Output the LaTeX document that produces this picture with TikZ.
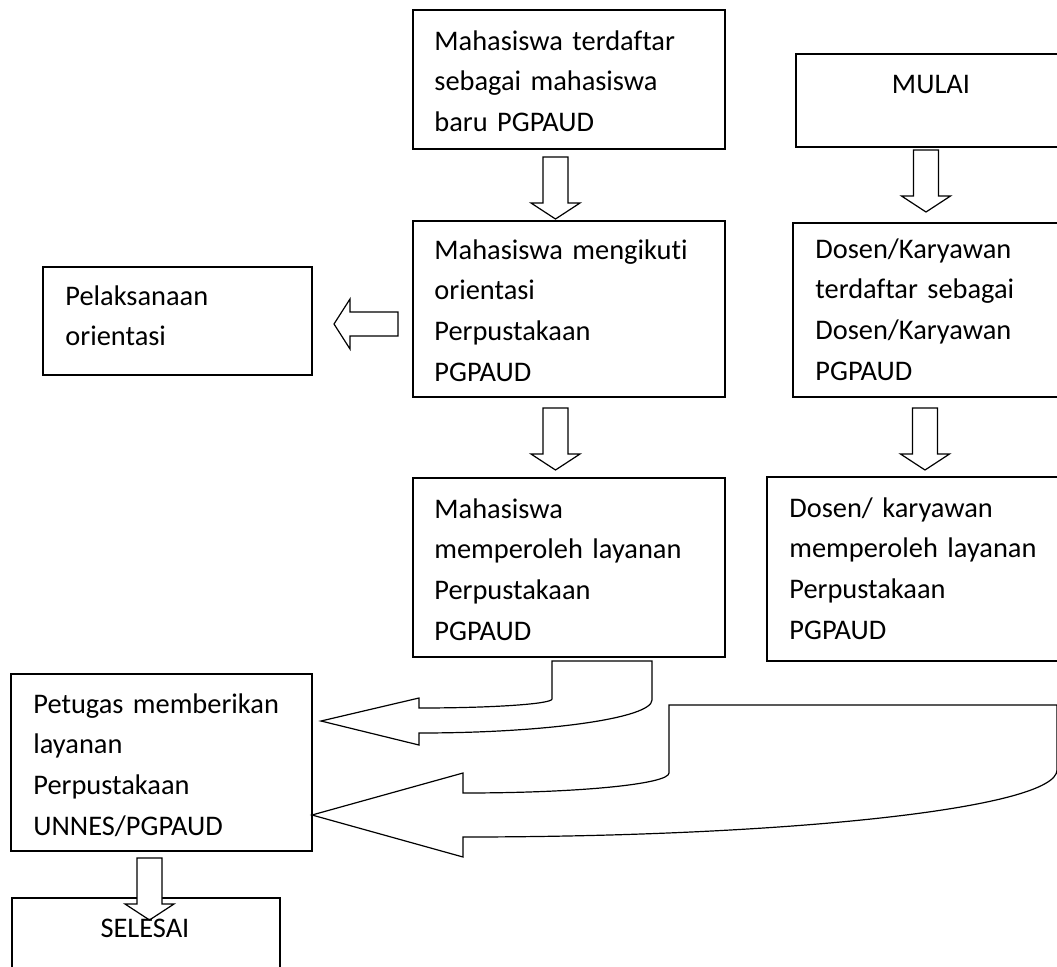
\documentclass[tikz,border=0pt]{standalone}
\usepackage{fontspec}
\setmainfont{Carlito}[Ligatures=NoCommon]
\usetikzlibrary{calc,fit}

\tikzset{
  kotak/.style={draw, line width=0.75pt, inner sep=0pt},
  teks/.style={anchor=base west, inner sep=0pt, text width=170pt, align=left,
    font=\fontsize{14.2pt}{20.4pt}\selectfont},
  judul/.style={anchor=base, inner sep=0pt, font=\fontsize{14.2pt}{20.4pt}\selectfont},
  panah/.style={draw, line width=0.6pt, fill=white, line join=miter},
  turun/.pic={\path[panah] (-12.5,0) -- (12.5,0) -- (12.5,46) -- (24.5,46) -- (0,62)
    -- (-24.5,46) -- (-12.5,46) -- cycle;}
}

\begin{document}
\begin{tikzpicture}[x=0.5pt,y=-0.5pt]
            \clip (0,0) rectangle (1057,966);

            % kotak-kotak
            \node[kotak, fit={(413,10) (725,149)}] (mhsbaru) {};
            \node[kotak, fit={(413,221) (725,397)}] (orientasi) {};
            \node[kotak, fit={(413,478) (725,657)}] (mhslayan) {};
            \node[kotak, fit={(796,54) (1070,147)}] (mulai) {};
            \node[kotak, fit={(793,223) (1070,397)}] (dosendaftar) {};
            \node[kotak, fit={(767,477) (1070,661)}] (dosenlayan) {};
            \node[kotak, fit={(43,267) (312,375)}] (pelaksanaan) {};
            \node[kotak, fit={(11,674) (312,851)}] (petugas) {};
            \node[kotak, fit={(12,898) (280,990)}] (selesai) {};

            % panah ke bawah
            \coordinate (p1) at (555.5,157);
            \coordinate (p2) at (555.5,408);
            \coordinate (p3) at (926,150);
            \coordinate (p4) at (925,408);
            \coordinate (p5) at (149.5,858);
            \pic at (p1) {turun};
            \pic at (p2) {turun};
            \pic at (p3) {turun};
            \pic at (p4) {turun};
            \pic at (p5) {turun};

            % panah ke kiri
            \path[panah] (398,312) -- (350,312) -- (350,299) -- (334,324) -- (350,349)
                -- (350,336) -- (398,336) -- cycle;

            % panah lengkung
            \path[panah] (419,708) .. controls (492,708) and (552,704) .. (552,699)
                -- (552,661) -- (652,661) -- (652,700)
                .. controls (652,718) and (548,733) .. (419,733)
                -- (419,745) -- (321,721) -- (419,698) -- cycle;
            \path[panah] (463,793) .. controls (580,793) and (669,784) .. (669,773)
                -- (669,705) -- (1057,705) -- (1057,770)
                .. controls (1057,808) and (790,837) .. (463,837)
                -- (463,857) -- (312,815) -- (463,773) -- cycle;

            % teks
            \node[teks] (tmhsbaru) at (434,50) {Mahasiswa terdaftar\\sebagai mahasiswa\\baru PGPAUD};
            \node[teks] (torientasi) at (434,259) {Mahasiswa mengikuti\\orientasi\\Perpustakaan\\PGPAUD};
            \node[teks] (tmhslayan) at (434,518) {Mahasiswa\\memperoleh layanan\\Perpustakaan\\PGPAUD};
            \node[judul] (tmulai) at (931,93) {MULAI};
            \node[teks] (tdosendaftar) at (815,258) {Dosen/Karyawan\\terdaftar sebagai\\Dosen/Karyawan\\PGPAUD};
            \node[teks] (tdosenlayan) at (789,517) {Dosen/ karyawan\\memperoleh layanan\\Perpustakaan\\PGPAUD};
            \node[teks] (tpelaksanaan) at (65,305) {Pelaksanaan\\orientasi};
            \node[teks] (tpetugas) at (33,713) {Petugas memberikan\\layanan\\Perpustakaan\\UNNES/PGPAUD};
            \node[judul] (tselesai) at (145,937) {SELESAI};

        \end{tikzpicture}
\end{document}
